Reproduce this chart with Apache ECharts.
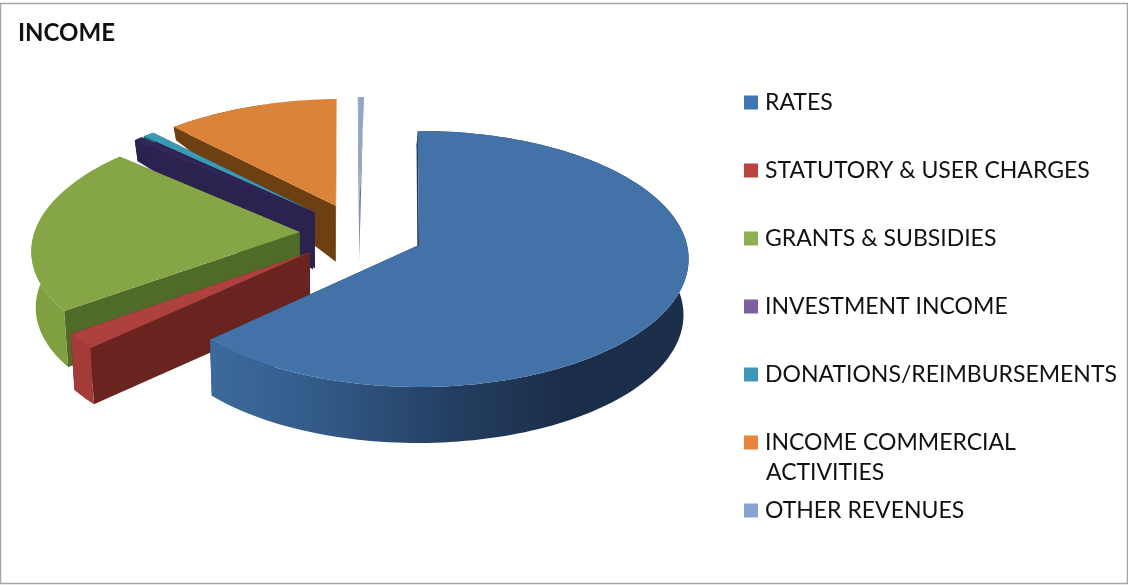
<!DOCTYPE html>
<html><head><meta charset="utf-8">
<style>html,body{margin:0;padding:0;background:#fff}#c{width:1128px;height:585px}</style>
<script src="https://cdn.jsdelivr.net/npm/echarts@6/dist/echarts.min.js"></script>
</head><body><div id="c"></div>
<script>
// DATA (percent of income)
const categories = ["RATES","STATUTORY & USER CHARGES","GRANTS & SUBSIDIES","INVESTMENT INCOME","DONATIONS/REIMBURSEMENTS","INCOME COMMERCIAL ACTIVITIES","OTHER REVENUES"];
const values = [62.9, 2.0, 21.5, 0.6, 0.8, 11.8, 0.4];
// draw order is back to front
const drawOrder = [6,5,4,3,2,1,0];
// STYLE
const legendColors = ["#3F75B5","#BA4340","#8FB050","#7D60A0","#3F97B8","#E8843C","#86A4D2"];
const topColors    = ["#4372A8","#AE403D","#86A547","#33275A","#3A9AB2","#DB8338","#8FA6C8"];
const wallColors   = ["#22385A","#6A2420","#4F6B27","#2C2250","#2C2250","#6E3F10","#5A6E8C"];
const outerColors  = ["#22385A","#A33B38","#7F9F40","#2C2250","#246677","#6E3F10","#5A6E8C"];
const blueOuter = [[0,"#3D6A9C"],[0.22,"#335B8A"],[0.5,"#243F63"],[0.75,"#1A2D48"],[1,"#1B2F4A"]];
// pie projection (perspective of a tilted disc)
const CX=419, CY=245, A=126.5, B=268, K=0.109;
const explode=[0.245,0.235,0.225,0.245,0.245,0.245,0.245], startAngle=-0.3;
const midRates=(startAngle+values[0]*1.8)*Math.PI/180;
const CU=-explode[0]*Math.sin(midRates), CV=explode[0]*Math.cos(midRates);
function project(u,v){const w=1-K*v;return [CX+B*u/w,CY+A*v/w];}
function lower(p){ // bottom face of the disc below a top-face point
  const d=Math.min(56,Math.max(0,12+(p[1]-125)*0.6));
  return [p[0]-1.2-0.0145*(p[0]-CX),p[1]+d];
}
function angles(i){
  let s=0;for(let j=0;j<i;j++)s+=values[j];
  return [startAngle+s*3.6,startAngle+(s+values[i])*3.6];
}
function sliceShapes(i){
  const [a0,a1]=angles(i), mid=(a0+a1)/2*Math.PI/180;
  const ou=CU+explode[i]*Math.sin(mid), ov=CV-explode[i]*Math.cos(mid);
  const pt=(deg,r)=>{const t=deg*Math.PI/180;return project(ou+r*Math.sin(t),ov-r*Math.cos(t));};
  const apex=pt(0,0), arc=[], n=Math.max(2,Math.ceil((a1-a0)/1.5));
  for(let k=0;k<=n;k++)arc.push(pt(a0+(a1-a0)*k/n,1));
  const wall=(p)=>[apex,p,lower(p),lower(apex)];
  const outer=arc.concat(arc.map(lower).reverse());
  return {top:[apex].concat(arc),w0:wall(arc[0]),w1:wall(arc[arc.length-1]),outer};
}
function poly(points,fill){return {type:'polygon',shape:{points},style:{fill,stroke:null}};}
function makeRender(i){
  return function(){
    const s=sliceShapes(i);
    const outerFill=i===0?{type:'linear',x:0,y:0,x2:1,y2:0,colorStops:blueOuter.map(c=>({offset:c[0],color:c[1]}))}:outerColors[i];
    return {type:'group',children:[
      poly(s.w1,wallColors[i]),poly(s.w0,wallColors[i]),poly(s.outer,outerFill),poly(s.top,topColors[i])
    ]};
  };
}
const series=drawOrder.map(i=>({
  type:'custom',name:categories[i],coordinateSystem:'none',silent:true,
  renderItem:makeRender(i),data:[[values[i]]],itemStyle:{color:legendColors[i]}
}));
const FONT='Lato, Carlito, "Open Sans", sans-serif';
const chart=echarts.init(document.getElementById('c'),null,{renderer:'canvas'});
chart.setOption({
  animation:false,backgroundColor:'#fff',
  title:{text:'INCOME',left:13,top:16,textStyle:{fontFamily:FONT,fontSize:24,fontWeight:'bold',color:'#111'}},
  legend:{orient:'vertical',left:744,top:91,padding:0,icon:'rect',itemWidth:14,itemHeight:14,itemGap:45,selectedMode:false,
    data:categories,
    formatter:n=>n==="INCOME COMMERCIAL ACTIVITIES"?"INCOME COMMERCIAL":n,
    textStyle:{fontFamily:FONT,fontSize:23,color:'#111',lineHeight:20,padding:[0,0,0,2]}},
  series,
  graphic:[
    {type:'rect',silent:true,z:-1,shape:{x:0.5,y:3.5,width:1127,height:580},style:{fill:'none',stroke:'#a6a6a6',lineWidth:1.5}},
    {type:'text',left:766,top:461,style:{text:'ACTIVITIES',font:'23px '+FONT,fill:'#111'}}
  ]
});
</script></body></html>
